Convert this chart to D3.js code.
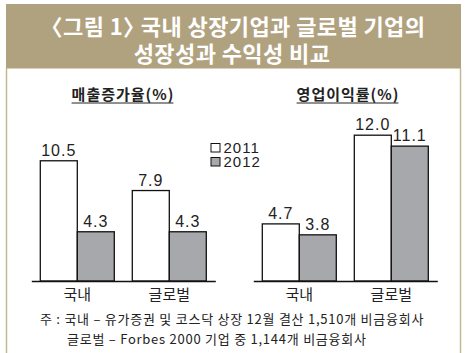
<!DOCTYPE html>
<html>
<head>
<meta charset="utf-8">
<script src="https://cdn.jsdelivr.net/npm/d3@7"></script>
<style>
  body { margin: 0; background: #fff; }
  svg { display: block; }
</style>
</head>
<body>
<div id="chart"></div>
<script>
// data
var categories = ["국내", "글로벌"];
var years = ["2011", "2012"];
var sales2011 = [10.5, 7.9];
var sales2012 = [4.3, 4.3];
var margin2011 = [4.7, 12.0];
var margin2012 = [3.8, 11.1];

var titleTag = "〈그림 1〉";
var titleLines = [" 국내 상장기업과 글로벌 기업의", "성장성과 수익성 비교"];
var chartTitles = ["매출증가율(%)", "영업이익률(%)"];
var notes = ["주 : 국내 – 유가증권 및 코스닥 상장 12월 결산 1,510개 비금융회사",
             "글로벌 – Forbes 2000 기업 중 1,144개 비금융회사"];

var w = 471, h = 353;
var kr = "'Noto Sans CJK KR', 'Noto Sans', sans-serif";
var num = "'Liberation Sans', Arial, sans-serif";
var fills = { "2011": "#ffffff", "2012": "#a7a8ab" };
var tan = "#b1a27f";

var svg = d3.select("#chart").append("svg")
    .attr("width", w)
    .attr("height", h);

// header band + frame
svg.append("rect")
    .attr("x", 6).attr("y", 4)
    .attr("width", 455).attr("height", 64.5)
    .attr("fill", tan);
svg.append("line")
    .attr("x1", 6.5).attr("x2", 6.5).attr("y1", 68).attr("y2", h)
    .attr("stroke", "#c4b792").attr("stroke-width", 1.5);
svg.append("line")
    .attr("x1", 460.5).attr("x2", 460.5).attr("y1", 68).attr("y2", h)
    .attr("stroke", "#c4b792").attr("stroke-width", 1.5);

// title, line 1 with tightened brackets
var t1 = svg.append("text")
    .attr("x", 233)
    .attr("y", 35)
    .attr("text-anchor", "middle")
    .style("font-family", kr)
    .style("font-size", "22px")
    .style("font-weight", 700)
    .style("letter-spacing", "0.4px")
    .style("fill", "#fff");
t1.append("tspan").text(titleTag);
t1.append("tspan").attr("dx", -10).text(titleLines[0]);

svg.append("text")
    .attr("x", 232)
    .attr("y", 62)
    .attr("text-anchor", "middle")
    .style("font-family", kr)
    .style("font-size", "22px")
    .style("font-weight", 700)
    .style("letter-spacing", "0.4px")
    .style("fill", "#fff")
    .text(titleLines[1]);

function barChart(v2011, v2012, left, right, yMax, yTop, title, titleX){
    var base = 281;
    var rows = categories.map(function(c, i){
        return { cat: c, vals: [v2011[i], v2012[i]] };
    });

    var x0 = d3.scaleBand()
        .domain(categories)
        .range([left, right])
        .paddingInner(0.1957)
        .paddingOuter(0.0978);

    var x1 = d3.scaleBand()
        .domain(years)
        .range([0, x0.bandwidth()]);

    var y = d3.scaleLinear()
        .domain([0, yMax])
        .range([base, yTop]);

    var g = svg.append("g");

    var groups = g.selectAll(".grp")
        .data(rows)
        .enter().append("g")
        .attr("transform", function(d){ return "translate(" + x0(d.cat) + ",0)"; });

    groups.selectAll("rect")
        .data(function(d){ return d.vals.map(function(v, j){ return { yr: years[j], v: v }; }); })
        .enter().append("rect")
        .attr("x", function(d){ return x1(d.yr); })
        .attr("y", function(d){ return y(d.v); })
        .attr("width", x1.bandwidth())
        .attr("height", function(d){ return base - y(d.v); })
        .attr("fill", function(d){ return fills[d.yr]; })
        .attr("stroke", "#111")
        .attr("stroke-width", 1.3);

    groups.selectAll(".val")
        .data(function(d){ return d.vals.map(function(v, j){ return { yr: years[j], v: v }; }); })
        .enter().append("text")
        .attr("class", "val")
        .attr("x", function(d){ return x1(d.yr) + x1.bandwidth() / 2; })
        .attr("y", function(d){ return y(d.v) - 5; })
        .attr("text-anchor", "middle")
        .style("font-family", num)
        .style("font-size", "16px")
        .style("letter-spacing", "1px")
        .style("fill", "#222")
        .text(function(d){ return d.v.toFixed(1); });

    var axis = d3.axisBottom(x0).tickSize(0).tickPadding(8);
    var ax = g.append("g")
        .attr("transform", "translate(0," + base + ")")
        .call(axis);
    ax.select(".domain").attr("stroke", "#111").attr("stroke-width", 1.3);
    ax.selectAll("text")
        .style("font-family", kr)
        .style("font-size", "15px")
        .style("fill", "#222");

    var t = g.append("text")
        .attr("x", titleX)
        .attr("y", 100)
        .attr("text-anchor", "middle")
        .style("font-family", kr)
        .style("font-size", "15px")
        .style("font-weight", 700)
        .style("letter-spacing", "1px")
        .style("fill", "#222")
        .text(title);
    var bb = t.node().getBBox();
    g.append("line")
        .attr("x1", bb.x).attr("x2", bb.x + bb.width - 1)
        .attr("y1", 103).attr("y2", 103)
        .attr("stroke", "#222").attr("stroke-width", 1);
}

barChart(sales2011, sales2012, 31.3, 215.3, 12, 281 - 12 * 11.45, chartTitles[0], 123);
barChart(margin2011, margin2012, 253.3, 437.3, 13, 281 - 13 * 12.15, chartTitles[1], 348);

// legend
var legend = svg.selectAll(".leg")
    .data(years)
    .enter().append("g")
    .attr("transform", function(d, i){ return "translate(211," + (143.5 + i * 14) + ")"; });
legend.append("rect")
    .attr("width", 9).attr("height", 8.5)
    .attr("fill", function(d){ return fills[d]; })
    .attr("stroke", "#111").attr("stroke-width", 1);
legend.append("text")
    .attr("x", 12.5).attr("y", 9.5)
    .style("font-family", num)
    .style("font-size", "15px")
    .style("letter-spacing", "1px")
    .style("fill", "#222")
    .text(function(d){ return d; });

// footnote
svg.selectAll(".note")
    .data(notes)
    .enter().append("text")
    .attr("class", "note")
    .attr("x", function(d, i){ return i === 0 ? 40 : 67; })
    .attr("y", function(d, i){ return 324 + i * 20; })
    .style("font-family", kr)
    .style("font-size", "13px")
    .style("letter-spacing", "0.75px")
    .style("fill", "#222")
    .text(function(d){ return d; });
</script>
</body>
</html>
